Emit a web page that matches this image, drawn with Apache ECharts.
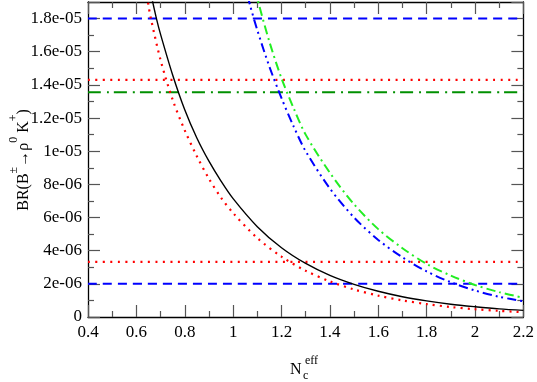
<!DOCTYPE html>
<html>
<head>
<meta charset="utf-8">
<script src="https://cdn.jsdelivr.net/npm/echarts@6/dist/echarts.min.js"></script>
<style>html,body{margin:0;padding:0;background:#fff}#c{width:537px;height:382px}</style>
</head>
<body>
<div id="c"></div>
<script>
// values in units of 1e-6
const xTickLabels = ['0.4','0.6','0.8','1','1.2','1.4','1.6','1.8','2','2.2'];
const yTickLabels = ['0','2e-06','4e-06','6e-06','8e-06','1e-05','1.2e-05','1.4e-05','1.6e-05','1.8e-05'];

const blackX = [0.66,0.683,0.70,0.75,0.80,0.85,0.90,0.95,1.00,1.10,1.20,1.30,1.40,1.50,1.60,1.70,1.80,1.90,2.00,2.10,2.20];
const blackY = [19.5,18.0,17.05,14.6,12.5,10.8,9.4,8.2,7.14,5.45,4.18,3.23,2.51,1.97,1.55,1.22,0.97,0.77,0.62,0.49,0.40];

const redX = [0.64,0.65,0.66,0.70,0.75,0.80,0.85,0.90,0.95,1.00,1.10,1.20,1.30,1.40,1.50,1.60,1.70,1.80,1.90,2.00,2.10,2.20];
const redY = [19.8,18.8,18.0,15.5,13.1,11.26,9.7,8.34,7.2,6.27,4.76,3.64,2.79,2.15,1.66,1.29,1.0,0.78,0.60,0.47,0.37,0.29];

const blueX = [1.06,1.07,1.10,1.15,1.20,1.25,1.30,1.40,1.50,1.60,1.70,1.80,1.90,2.00,2.10,2.20];
const blueY = [19.4,18.8,17.3,15.1,13.2,11.5,10.0,7.75,6.0,4.65,3.6,2.75,2.1,1.6,1.22,0.95];

const greenX = [1.09,1.10,1.15,1.20,1.25,1.30,1.40,1.50,1.60,1.70,1.80,1.90,2.00,2.10,2.20];
const greenY = [19.8,19.2,16.6,14.4,12.6,11.0,8.7,6.8,5.3,4.15,3.2,2.5,1.93,1.5,1.16];

const blueDashLevels = [18.0, 2.0];
const redDotLevels = [14.3, 3.32];
const greenDashDotLevels = [13.55];

const xMin = 0.4, xMax = 2.2;

function pairs(xs, ys){ return xs.map((x,i)=>[x, ys[i]]); }
function hline(v){ return [[xMin, v],[xMax, v]]; }

const chart = echarts.init(document.getElementById('c'));
const serif = '"Liberation Serif","DejaVu Serif",serif';
const tickColor = '#555';

function xAx(pos, labels){
  return {
    type:'value', position:pos, min:xMin, max:xMax, interval:0.2,
    axisLine:{show:true, onZero:false, lineStyle:{color:'#000', width:1.3}},
    axisTick:{show:true, inside:true, length:12, lineStyle:{color:tickColor, width:1.2}},
    minorTick:{show:true, splitNumber:2, length:6, lineStyle:{color:tickColor, width:1.2}},
    splitLine:{show:false},
    axisLabel:{show:labels, margin:7, fontFamily:serif, fontSize:17, color:'#000',
      formatter:(v)=>{ const i=Math.round((v-xMin)/0.2); return xTickLabels[i]!==undefined?xTickLabels[i]:''; }}
  };
}
function yAx(pos, labels){
  return {
    type:'value', position:pos, min:0, max:19, interval:2,
    axisLine:{show:true, onZero:false, lineStyle:{color:'#000', width:1.3}},
    axisTick:{show:true, inside:true, length:12, lineStyle:{color:tickColor, width:1.2}},
    minorTick:{show:true, splitNumber:2, length:6, lineStyle:{color:tickColor, width:1.2}},
    splitLine:{show:false},
    axisLabel:{show:labels, margin:6, fontFamily:serif, fontSize:17, color:'#000',
      formatter:(v)=>{ if (Math.abs(v/2-Math.round(v/2))>1e-6) return ''; const i=Math.round(v/2); return yTickLabels[i]!==undefined?yTickLabels[i]:''; }}
  };
}

function ser(data, color, type, width){
  return {type:'line', data:data, showSymbol:false, symbol:'none', smooth:0.3, clip:true,
    lineStyle:{color:color, width:width, type:type, cap:'butt'}, xAxisIndex:0, yAxisIndex:0, silent:true, animation:false};
}

const series = [];
blueDashLevels.forEach(v=>series.push(ser(hline(v), '#0000ff', [9,6], 2)));
redDotLevels.forEach(v=>series.push(ser(hline(v), '#ff0000', [2,5.5], 2.2)));
greenDashDotLevels.forEach(v=>series.push(ser(hline(v), '#009000', [13,6,2,5], 2)));
series.push(ser(pairs(blackX, blackY), '#000000', 'solid', 1.4));
series.push(ser(pairs(redX, redY), '#ff0000', [2,5], 2.2));
series.push(ser(pairs(blueX, blueY), '#0000ff', [9,4,2,4,2,4], 2));
series.push(ser(pairs(greenX, greenY), '#22ee22', [9,4,2,4], 2));

chart.setOption({
  animation:false,
  backgroundColor:'#fff',
  grid:{left:88, right:12, top:2, bottom:65, containLabel:false},
  xAxis:[xAx('bottom', true), xAx('top', false)],
  yAxis:[yAx('left', true), yAx('right', false)],
  series: series,
  graphic:[
    {type:'text', x:20, y:160, rotation:Math.PI/2,
      style:{
        text:'{a|BR(B}{s|±}{a|→ρ}{s|0}{a| K}{s|+}{a|)}',
        align:'center', verticalAlign:'middle',
        rich:{
          a:{fontFamily:serif, fontSize:16, lineHeight:24, verticalAlign:'bottom', fill:'#000'},
          s:{fontFamily:serif, fontSize:12, lineHeight:14, verticalAlign:'top', fill:'#000'}
        }
      }},
    {type:'text', x:290, y:369.5, style:{text:'N', fontFamily:serif, fontSize:16, fill:'#000', align:'left', verticalAlign:'middle'}},
    {type:'text', x:303, y:376, style:{text:'c', fontFamily:serif, fontSize:12, fill:'#000', align:'left', verticalAlign:'middle'}},
    {type:'text', x:305, y:361, style:{text:'eff', fontFamily:serif, fontSize:12, fill:'#000', align:'left', verticalAlign:'middle'}}
  ]
});
</script>
</body>
</html>
